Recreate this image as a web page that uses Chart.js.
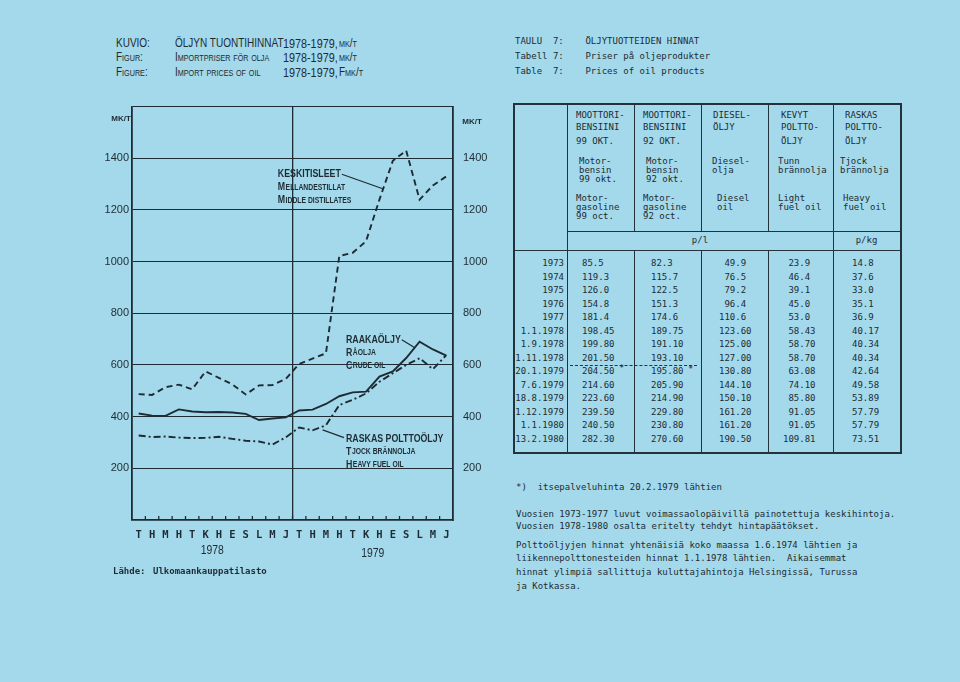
<!DOCTYPE html>
<html>
<head>
<meta charset="utf-8">
<script src="https://cdn.jsdelivr.net/npm/chart.js@4.4.0/dist/chart.umd.min.js"></script>
<style>
  html, body { margin: 0; padding: 0; }
  body { width: 960px; height: 682px; background: #a3d9ea; position: relative; overflow: hidden; color: #1f2b33; }
  .t { position: absolute; white-space: pre; line-height: 1; }
  .narrow { font-family: 'Liberation Sans Narrow', 'Liberation Sans', sans-serif; font-size: 12.5px; transform: scaleX(0.8); transform-origin: 0 0; }
  .sc { font-variant: small-caps; }
  .mono { font-family: 'DejaVu Sans Mono', 'Liberation Mono', monospace; font-size: 9px; }
  .rule { position: absolute; background: #24323c; }
  .dash { position: absolute; border-top: 1px dashed #24323c; height: 0; }
  #chartBox { position: absolute; left: 100px; top: 90px; width: 400px; height: 480px; }
</style>
</head>
<body>
<div id="chartBox"><canvas id="oilChart" width="400" height="480"></canvas></div>

<script>
// --- Chart data ---
const months = ['T', 'H', 'M', 'H', 'T', 'K', 'H', 'E', 'S', 'L', 'M', 'J',
                'T', 'H', 'M', 'H', 'T', 'K', 'H', 'E', 'S', 'L', 'M', 'J'];
const years = ['1978', '1979'];
const middleDistillates = [487, 484, 514, 524, 506, 575, 550, 525, 486, 521, 522, 546,
                           604, 625, 645, 1022, 1034, 1079, 1240, 1390, 1430, 1240, 1295, 1330];
const crudeOil = [412, 404, 403, 428, 420, 417, 418, 416, 411, 387, 393, 397,
                  424, 427, 449, 479, 494, 497, 555, 575, 627, 690, 660, 636];
const heavyFuelOil = [327, 321, 323, 319, 317, 318, 322, 314, 307, 304, 292, 320,
                      358, 347, 367, 445, 465, 490, 535, 568, 600, 626, 584, 638];

// --- Table data ---
const rowLabels = ['1973', '1974', '1975', '1976', '1977', '1.1.1978', '1.9.1978', '1.11.1978',
                   '20.1.1979', '7.6.1979', '18.8.1979', '1.12.1979', '1.1.1980', '13.2.1980'];
const motor99 = ['85.5', '119.3', '126.0', '154.8', '181.4', '198.45', '199.80', '201.50',
                 '204.50', '214.60', '223.60', '239.50', '240.50', '282.30'];
const motor92 = ['82.3', '115.7', '122.5', '151.3', '174.6', '189.75', '191.10', '193.10',
                 '195.80', '205.90', '214.90', '229.80', '230.80', '270.60'];
const dieselOil = ['49.9', '76.5', '79.2', '96.4', '110.6', '123.60', '125.00', '127.00',
                   '130.80', '144.10', '150.10', '161.20', '161.20', '190.50'];
const lightFuelOil = ['23.9', '46.4', '39.1', '45.0', '53.0', '58.43', '58.70', '58.70',
                      '63.08', '74.10', '85.80', '91.05', '91.05', '109.81'];
const heavyFuelTable = ['14.8', '37.6', '33.0', '35.1', '36.9', '40.17', '40.34', '40.34',
                        '42.64', '49.58', '53.89', '57.79', '57.79', '73.51'];

const ink = '#1f2b33';
const narrow = "'Liberation Sans Narrow', 'Liberation Sans', sans-serif";
const mono = "'DejaVu Sans Mono', 'Liberation Mono', monospace";

// --- page text helpers ---
function put(str, x, y, cls, extra) {
    const d = document.createElement('div');
    d.className = 't ' + cls;
    d.textContent = str;
    d.style.left = x + 'px';
    d.style.top = y + 'px';
    if (extra) Object.assign(d.style, extra);
    document.body.appendChild(d);
    return d;
}
function putRight(str, xRight, y, cls) {
    const d = put(str, 0, y, cls);
    d.style.left = 'auto';
    d.style.right = (960 - xRight) + 'px';
}
function rule(x, y, w, h) {
    const d = document.createElement('div');
    d.className = 'rule';
    Object.assign(d.style, { left: x + 'px', top: y + 'px', width: w + 'px', height: h + 'px' });
    document.body.appendChild(d);
}

// Figure titles
put('KUVIO:', 116, 37, 'narrow');
put('ÖLJYN TUONTIHINNAT', 175, 37, 'narrow');
put('1978-1979,', 283, 37, 'narrow', { fontSize: '13.5px' });
put('mk/t', 339, 37, 'narrow sc');
put('Figur:', 116, 51, 'narrow sc');
put('Importpriser för olja', 175, 51, 'narrow sc');
put('1978-1979,', 283, 51, 'narrow', { fontSize: '13.5px' });
put('mk/t', 339, 51, 'narrow sc');
put('Figure:', 116, 66, 'narrow sc');
put('Import prices of oil', 175, 66, 'narrow sc');
put('1978-1979,', 283, 66, 'narrow', { fontSize: '13.5px' });
put('Fmk/t', 339, 66, 'narrow sc');

put('TAULU  7:    ÖLJYTUOTTEIDEN HINNAT', 515, 37, 'mono');
put('Tabell 7:    Priser på oljeprodukter', 515, 52, 'mono');
put('Table  7:    Prices of oil products', 515, 67, 'mono');

// --- Table ---
const tL = 513, tR = 900, tT = 103, tB = 452;
const colX = [567, 634, 701, 768, 833];
rule(tL, tT, tR - tL, 2);
rule(tL, tB, tR - tL + 1, 2);
rule(tL, tT, 2, tB - tT);
rule(tR, tT, 2, tB - tT + 2);
colX.forEach((cx, i) => {
    if (i === 0 || i === 4) {
        rule(cx, tT, 1, tB - tT);
    } else {
        rule(cx, tT, 1, 231 - tT);
        rule(cx, 250, 1, tB - 250);
    }
});
rule(567, 231, tR - 567, 1);
rule(tL, 250, tR - tL, 1);

const headers = [
    { x: 576, up: ['MOOTTORI-', 'BENSIINI', '99 OKT.'], mid: ['Motor-', 'bensin', '99 okt.'], midX: 579, low: ['Motor-', 'gasoline', '99 oct.'], lowX: 576 },
    { x: 643, up: ['MOOTTORI-', 'BENSIINI', '92 OKT.'], mid: ['Motor-', 'bensin', '92 okt.'], midX: 646, low: ['Motor-', 'gasoline', '92 oct.'], lowX: 643 },
    { x: 713, up: ['DIESEL-', 'ÖLJY'], mid: ['Diesel-', 'olja'], midX: 712, low: ['Diesel', 'oil'], lowX: 717 },
    { x: 781, up: ['KEVYT', 'POLTTO-', 'ÖLJY'], mid: ['Tunn', 'brännolja'], midX: 778, low: ['Light', 'fuel oil'], lowX: 778 },
    { x: 845, up: ['RASKAS', 'POLTTO-', 'ÖLJY'], mid: ['Tjock', 'brännolja'], midX: 840, low: ['Heavy', 'fuel oil'], lowX: 843 }
];
const upY = [111, 123, 137];
headers.forEach(h => {
    h.up.forEach((s, k) => put(s, h.x, upY[k], 'mono'));
    h.mid.forEach((s, k) => put(s, h.midX, 157 + k * 9, 'mono'));
    h.low.forEach((s, k) => put(s, h.lowX, 194 + k * 9, 'mono'));
});
put('p/l', 567, 236, 'mono', { width: '266px', textAlign: 'center' });
put('p/kg', 833, 236, 'mono', { width: '67px', textAlign: 'center' });

function decimalPad(v) {
    const p = v.split('.');
    return p[0].padStart(3, ' ') + '.' + p[1];
}
rowLabels.forEach((lab, r) => {
    const y = 259 + r * 13.5;
    putRight(lab, 564, y, 'mono');
    put(motor99[r], 582, y, 'mono');
    put(motor92[r], 651, y, 'mono');
    put(decimalPad(dieselOil[r]), 719, y, 'mono');
    put(decimalPad(lightFuelOil[r]), 783, y, 'mono');
    put(heavyFuelTable[r], 852, y, 'mono');
});
// dashed break before the self-service prices
const dl = document.createElement('div');
dl.className = 'dash';
Object.assign(dl.style, { left: '570px', top: '365px', width: '127px' });
document.body.appendChild(dl);
put('*', 619, 364, 'mono');
put('*', 688, 365, 'mono');

// Notes
put('*)  itsepalveluhinta 20.2.1979 lähtien', 516, 483, 'mono');
put('Vuosien 1973-1977 luvut voimassaolopäivillä painotettuja keskihintoja.', 516, 510, 'mono');
put('Vuosien 1978-1980 osalta eritelty tehdyt hintapäätökset.', 516, 522, 'mono');
put('Polttoöljyjen hinnat yhtenäisiä koko maassa 1.6.1974 lähtien ja', 516, 541, 'mono');
put('liikennepolttonesteiden hinnat 1.1.1978 lähtien.  Aikaisemmat', 516, 554, 'mono');
put('hinnat ylimpiä sallittuja kuluttajahintoja Helsingissä, Turussa', 516, 568, 'mono');
put('ja Kotkassa.', 516, 582, 'mono');

put('Lähde:', 113, 567, 'mono', { fontWeight: 'bold' });
put('Ulkomaankauppatilasto', 153, 567, 'mono', { fontWeight: 'bold' });

// --- Chart annotations (anchored in data units) ---
const notes = [
    { lines: ['KESKITISLEET', 'Mellandestillat', 'Middle distillates'], at: [10.4, 1338], to: [18.25, 1282], fromEnd: true },
    { lines: ['RAAKAÖLJY', 'Råolja', 'Crude oil'], at: [15.5, 698], to: [20.65, 667], fromEnd: true },
    { lines: ['RASKAS POLTTOÖLJY', 'Tjock brännolja', 'Heavy fuel oil'], at: [15.5, 315], to: [13.75, 349], fromEnd: false }
];

const squeeze = 0.8;
// condensed text: returns drawn width
function condensed(ctx, str, x, y) {
    ctx.save();
    ctx.translate(x, y);
    ctx.scale(squeeze, 1);
    ctx.fillText(str, 0, 0);
    const w = ctx.measureText(str).width * squeeze;
    ctx.restore();
    return w;
}
function drawCaps(ctx, str, x, y) {
    ctx.font = 'bold 11px ' + narrow;
    const w = condensed(ctx, str[0], x, y);
    ctx.font = 'bold 8.5px ' + narrow;
    condensed(ctx, str.slice(1).toUpperCase(), x + w + 0.5, y);
}

const overlay = {
    id: 'overlay',
    afterDraw(chart) {
        const { ctx, chartArea: a, scales: { x, y } } = chart;
        ctx.save();
        ctx.strokeStyle = ink;
        ctx.fillStyle = ink;
        ctx.lineWidth = 1.3;

        // small ticks inside the bottom axis, between months
        for (let i = 1; i < months.length; i++) {
            const px = (x.getPixelForValue(i - 1) + x.getPixelForValue(i)) / 2;
            ctx.beginPath();
            ctx.moveTo(px, a.bottom);
            ctx.lineTo(px, a.bottom - 4);
            ctx.stroke();
        }

        // year labels
        ctx.textAlign = 'left';
        ctx.textBaseline = 'middle';
        ctx.font = '13px ' + narrow;
        years.forEach((yr, k) => {
            const px = (x.getPixelForValue(k * 12 + 5) + x.getPixelForValue(k * 12 + 6)) / 2;
            const w = ctx.measureText(yr).width * squeeze;
            condensed(ctx, yr, px - w / 2, a.bottom + 30 + k * 3);
        });

        // unit labels
        ctx.font = 'bold 8px ' + narrow;
        ctx.textAlign = 'center';
        ctx.fillText('MK/T', a.left - 11, y.getPixelForValue(1600) + 12);
        ctx.fillText('MK/T', a.right + 19, y.getPixelForValue(1600) + 15);

        // series labels with leader lines
        ctx.textAlign = 'left';
        notes.forEach(n => {
            const tx = x.getPixelForValue(n.at[0]);
            const ty = y.getPixelForValue(n.at[1]);
            ctx.font = 'bold 11px ' + narrow;
            const w = condensed(ctx, n.lines[0], tx, ty);
            drawCaps(ctx, n.lines[1], tx, ty + 13);
            drawCaps(ctx, n.lines[2], tx, ty + 26);
            ctx.lineWidth = 1.2;
            ctx.beginPath();
            if (n.fromEnd) ctx.moveTo(tx + w + 1, ty);
            else ctx.moveTo(tx - 2, ty - 1);
            ctx.lineTo(x.getPixelForValue(n.to[0]), y.getPixelForValue(n.to[1]));
            ctx.stroke();
        });
        ctx.restore();
    }
};

const yTickLabel = v => (v > 0 && v < 1600) ? v : '';

new Chart(document.getElementById('oilChart'), {
    type: 'line',
    data: {
        labels: months,
        datasets: [{
            label: 'Keskitisleet',
            data: middleDistillates,
            borderDash: [6, 4]
        }, {
            label: 'Raakaöljy',
            data: crudeOil
        }, {
            label: 'Raskas polttoöljy',
            data: heavyFuelOil,
            borderDash: [7, 3, 2, 3]
        }]
    },
    options: {
        responsive: false,
        animation: false,
        layout: { padding: { top: 8 } },
        plugins: { legend: { display: false }, tooltip: { enabled: false } },
        elements: {
            point: { radius: 0 },
            line: { borderWidth: 1.9, borderColor: ink, tension: 0, fill: false }
        },
        scales: {
            x: {
                offset: true,
                grid: {
                    offset: true,
                    drawTicks: false,
                    lineWidth: 1.3,
                    color: c => c.index === 12 ? ink : 'rgba(0,0,0,0)'
                },
                border: { color: ink, width: 1.8 },
                ticks: {
                    color: ink,
                    padding: 9,
                    autoSkip: false,
                    maxRotation: 0,
                    font: { family: mono, size: 10.5, weight: 'bold' }
                },
                afterFit: s => { s.height = 50; }
            },
            y: {
                min: 0,
                max: 1600,
                ticks: {
                    stepSize: 200,
                    color: ink,
                    padding: 3,
                    callback: yTickLabel,
                    font: { family: narrow, size: 11 }
                },
                grid: { color: ink, lineWidth: 1.1, drawTicks: false },
                border: { color: ink, width: 1.8 },
                afterFit: s => { s.width = 32; }
            },
            y2: {
                position: 'right',
                min: 0,
                max: 1600,
                ticks: {
                    stepSize: 200,
                    color: ink,
                    padding: 10,
                    callback: yTickLabel,
                    font: { family: narrow, size: 11 }
                },
                grid: { display: false, drawTicks: false },
                border: { color: ink, width: 1.8 },
                afterFit: s => { s.width = 47; }
            }
        }
    },
    plugins: [overlay]
});
</script>
</body>
</html>
